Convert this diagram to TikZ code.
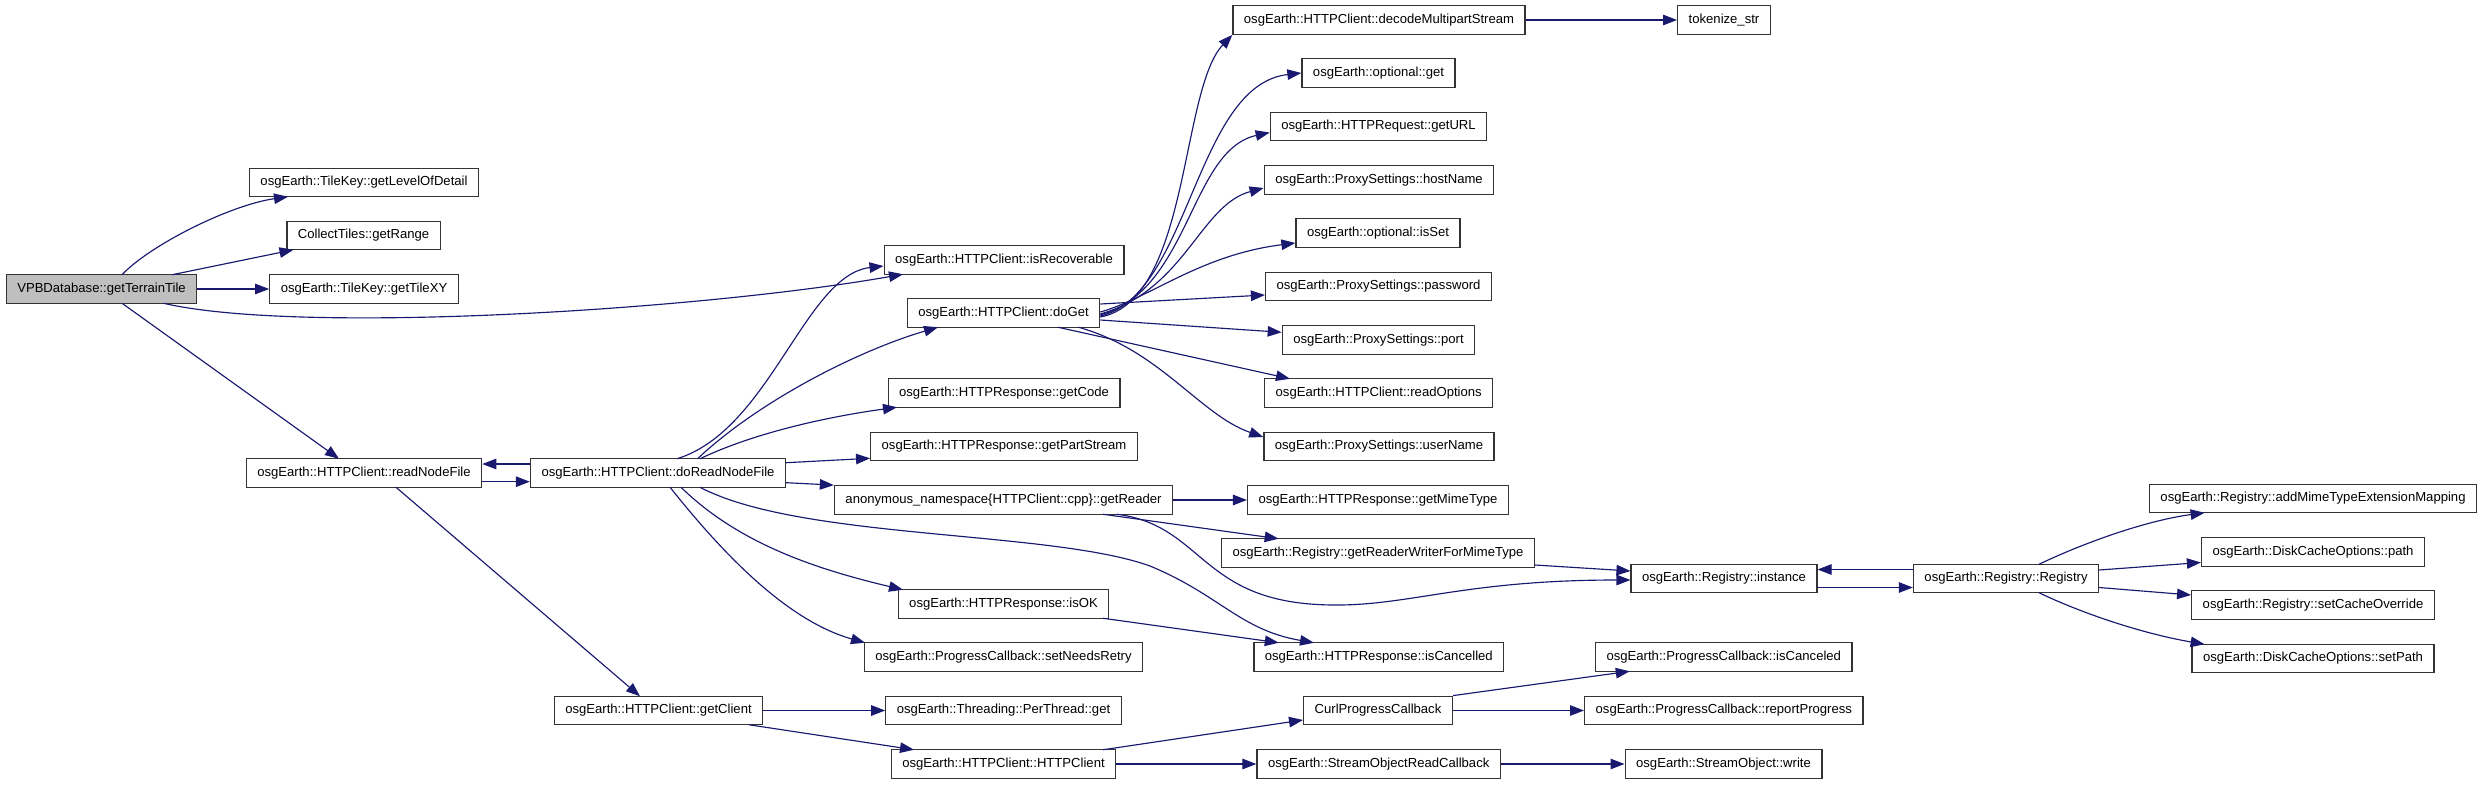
\documentclass[tikz,border=0pt]{standalone}
\usepackage{fontspec}
\setmainfont{Liberation Sans}
\usetikzlibrary{arrows.meta}
\definecolor{edgeblue}{HTML}{191970}
\definecolor{rootgray}{HTML}{BFBFBF}
\definecolor{boxline}{HTML}{333333}
\begin{document}
\begin{tikzpicture}[x=1pt,y=-1pt,
  fn/.style={draw=boxline,line width=1.3pt,fill=white,inner xsep=11pt,inner ysep=0pt,
    minimum height=28.5pt,font=\fontsize{13.1}{15.7}\selectfont,anchor=center},
  root/.style={fn,fill=rootgray},
  e/.style={draw=edgeblue,line width=1.15pt,-{Triangle[length=14pt,width=10.5pt]}}]
\useasboundingbox[fill=white] (0,0) rectangle (2483,784);
% column 0/1
\node[root] (VPB) at (101.5,289) {VPBDatabase::getTerrainTile};
\node[fn] (LOD) at (364,182.5) {osgEarth::TileKey::getLevelOfDetail};
\node[fn] (RNG) at (363.5,235.5) {CollectTiles::getRange};
\node[fn] (TXY) at (364,289) {osgEarth::TileKey::getTileXY};
\node[fn] (RNF) at (364,473) {osgEarth::HTTPClient::readNodeFile};
\node[fn] (DRNF) at (658,473) {osgEarth::HTTPClient::doReadNodeFile};
\node[fn] (GCL) at (658.5,710.5) {osgEarth::HTTPClient::getClient};
% column 2
\node[fn] (ISR) at (1004,260) {osgEarth::HTTPClient::isRecoverable};
\node[fn] (DOGET) at (1003.5,313) {osgEarth::HTTPClient::doGet};
\node[fn] (GCODE) at (1004,393) {osgEarth::HTTPResponse::getCode};
\node[fn] (GPS) at (1004,446.5) {osgEarth::HTTPResponse::getPartStream};
\node[fn] (GRDR) at (1003.5,500) {anonymous\_namespace\{HTTPClient::cpp\}::getReader};
\node[fn] (ISOK) at (1003.5,604) {osgEarth::HTTPResponse::isOK};
\node[fn] (SNR) at (1003.5,657) {osgEarth::ProgressCallback::setNeedsRetry};
\node[fn] (PTG) at (1003.5,710.5) {osgEarth::Threading::PerThread::get};
\node[fn] (HCC) at (1003.5,764) {osgEarth::HTTPClient::HTTPClient};
% column 3
\node[fn] (DMS) at (1379,20) {osgEarth::HTTPClient::decodeMultipartStream};
\node[fn] (OGET) at (1378.5,73) {osgEarth::optional::get};
\node[fn] (URL) at (1378.5,126.5) {osgEarth::HTTPRequest::getURL};
\node[fn] (HOST) at (1379,180) {osgEarth::ProxySettings::hostName};
\node[fn] (ISSET) at (1378,233) {osgEarth::optional::isSet};
\node[fn] (PWD) at (1378.5,286.5) {osgEarth::ProxySettings::password};
\node[fn] (PORT) at (1378.5,340) {osgEarth::ProxySettings::port};
\node[fn] (ROPT) at (1378.7,393) {osgEarth::HTTPClient::readOptions};
\node[fn] (USER) at (1379,446.5) {osgEarth::ProxySettings::userName};
\node[fn] (MIME) at (1378,500) {osgEarth::HTTPResponse::getMimeType};
\node[fn] (RWM) at (1378,553) {osgEarth::Registry::getReaderWriterForMimeType};
\node[fn] (ISC) at (1378.8,657) {osgEarth::HTTPResponse::isCancelled};
\node[fn] (CURL) at (1378,710.5) {CurlProgressCallback};
\node[fn] (SORC) at (1378.7,764) {osgEarth::StreamObjectReadCallback};
% column 4
\node[fn] (TOK) at (1724,20) {tokenize\_str};
\node[fn] (INST) at (1724,578.5) {osgEarth::Registry::instance};
\node[fn] (ISCD) at (1723.8,657) {osgEarth::ProgressCallback::isCanceled};
\node[fn] (RPP) at (1723.8,710.5) {osgEarth::ProgressCallback::reportProgress};
\node[fn] (SOW) at (1723.5,764) {osgEarth::StreamObject::write};
% column 5/6
\node[fn] (REG) at (2006,578.5) {osgEarth::Registry::Registry};
\node[fn] (ADD) at (2313,498.5) {osgEarth::Registry::addMimeTypeExtensionMapping};
\node[fn] (DPATH) at (2313,552) {osgEarth::DiskCacheOptions::path};
\node[fn] (SCO) at (2313,605) {osgEarth::Registry::setCacheOverride};
\node[fn] (SPATH) at (2313,658.5) {osgEarth::DiskCacheOptions::setPath};

% edges from VPB
\draw[e] ([shift={(20.5,-14.25)}]VPB.center) .. controls (150,245) and (230,205) .. ([shift={(-76,14.25)}]LOD.center);
\draw[e] ([shift={(70.5,-14.25)}]VPB.center) -- ([shift={(-70,14.25)}]RNG.center);
\draw[e] (VPB.east) -- (TXY.west);
\draw[e] ([shift={(62,14.25)}]VPB.center) .. controls (300,335) and (700,310) .. ([shift={(-101,14.25)}]ISR.center);
\draw[e] ([shift={(20.5,14.25)}]VPB.center) -- ([shift={(-25,-14.25)}]RNF.center);
% readNodeFile <-> doReadNodeFile
\draw[e] ([yshift=-8.7pt]RNF.east) -- ([yshift=-8.7pt]DRNF.west);
\draw[e] ([yshift=9pt]DRNF.west) -- ([yshift=9pt]RNF.east);
\draw[e] ([shift={(32,14.25)}]RNF.center) -- ([shift={(-18.5,-14.25)}]GCL.center);
% from doReadNodeFile
\draw[e] ([shift={(19,-14.25)}]DRNF.center) .. controls (770,430) and (805,275) .. ([yshift=-6pt]ISR.west);
\draw[e] ([shift={(39.5,-14.25)}]DRNF.center) .. controls (760,400) and (860,350) .. ([shift={(-65.5,14.25)}]DOGET.center);
\draw[e] ([shift={(42,-14.25)}]DRNF.center) .. controls (760,430) and (840,415) .. ([shift={(-107,14.25)}]GCODE.center);
\draw[e] ([yshift=10.3pt]DRNF.east) -- ([yshift=-11.8pt]GPS.west);
\draw[e] ([yshift=-9.7pt]DRNF.east) -- (GRDR.north west);
\draw[e] ([shift={(23,14.25)}]DRNF.center) .. controls (740,545) and (820,570) .. ([shift={(-100.5,-14.25)}]ISOK.center);
\draw[e] ([shift={(12,14.25)}]DRNF.center) .. controls (720,550) and (785,620) .. ([shift={(-138.5,-14.25)}]SNR.center);
\draw[e] ([shift={(42,14.25)}]DRNF.center) .. controls (800,540) and (1050,530) .. (1150,566) .. controls (1220,595) and (1240,630) .. ([shift={(-64.8,-14.25)}]ISC.center);
% doGet fan
\draw[e] ([yshift=-4pt]DOGET.east) .. controls (1190,300) and (1180,90) .. (DMS.south west);
\draw[e] ([yshift=-3pt]DOGET.east) .. controls (1190,295) and (1195,85) .. (OGET.west);
\draw[e] ([yshift=-2pt]DOGET.east) .. controls (1190,290) and (1190,150) .. ([yshift=-6pt]URL.west);
\draw[e] ([yshift=-1pt]DOGET.east) .. controls (1185,290) and (1200,205) .. ([yshift=-8pt]HOST.west);
\draw[e] ([yshift=1pt]DOGET.east) .. controls (1150,298) and (1200,255) .. ([yshift=-10pt]ISSET.west);
\draw[e] ([yshift=9pt]DOGET.east) -- ([yshift=-8.5pt]PWD.west);
\draw[e] ([yshift=-7pt]DOGET.east) -- ([yshift=7.7pt]PORT.west);
\draw[e] ([shift={(54.5,14.25)}]DOGET.center) -- ([shift={(-88.7,-14.25)}]ROPT.center);
\draw[e] ([shift={(75,14.25)}]DOGET.center) .. controls (1160,350) and (1200,415) .. ([yshift=9.5pt]USER.west);
\draw[e] (DMS.east) -- (TOK.west);
% getReader
\draw[e] (GRDR.east) -- (MIME.west);
\draw[e] ([shift={(99.5,14.25)}]GRDR.center) -- ([shift={(-99.3,-14.25)}]RWM.center);
\draw[e] ([shift={(113.5,14.25)}]GRDR.center) .. controls (1200,525) and (1200,595) .. (1310,604) .. controls (1400,611) and (1450,580) .. ([yshift=-1.5pt]INST.west);
\draw[e] ([yshift=-12pt]RWM.east) -- ([yshift=7.5pt]INST.west);
\draw[e] ([shift={(99.5,14.25)}]ISOK.center) -- ([shift={(-100,-14.25)}]ISC.center);
% getClient
\draw[e] (GCL.east) -- (PTG.west);
\draw[e] ([shift={(90.5,14.25)}]GCL.center) -- ([shift={(-89.5,-14.25)}]HCC.center);
\draw[e] ([shift={(99.5,-14.25)}]HCC.center) -- ([yshift=-9.5pt]CURL.west);
\draw[e] (HCC.east) -- (SORC.west);
\draw[e] (CURL.north east) -- ([shift={(-94,14.25)}]ISCD.center);
\draw[e] (CURL.east) -- (RPP.west);
\draw[e] (SORC.east) -- (SOW.west);
% Registry
\draw[e] ([yshift=-9pt]INST.east) -- ([yshift=-9pt]REG.west);
\draw[e] ([yshift=9pt]REG.west) -- ([yshift=9pt]INST.east);
\draw[e] ([shift={(33,-14.25)}]REG.center) .. controls (2090,540) and (2150,520) .. ([shift={(-108.4,14.25)}]ADD.center);
\draw[e] ([yshift=8.5pt]REG.east) -- ([yshift=-10.5pt]DPATH.west);
\draw[e] ([yshift=-9pt]REG.east) -- ([yshift=10pt]SCO.west);
\draw[e] ([shift={(33,14.25)}]REG.center) .. controls (2090,617) and (2150,635) .. ([shift={(-108.4,-14.25)}]SPATH.center);
\end{tikzpicture}
\end{document}
